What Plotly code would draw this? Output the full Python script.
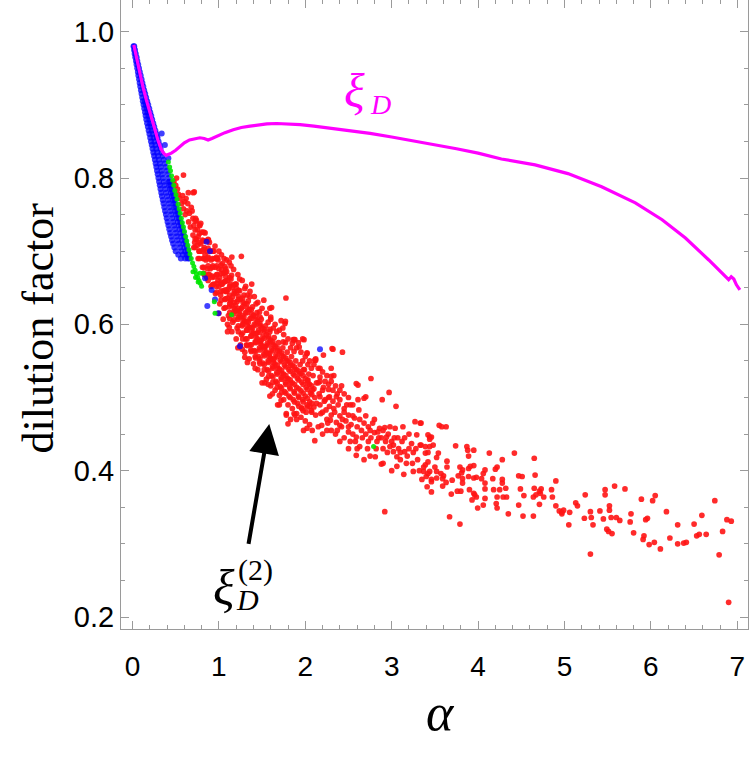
import plotly.graph_objects as go

# ---------------- data ----------------
# magenta curve xi_D
xi_x = [0.015, 0.05, 0.08, 0.12, 0.16, 0.2, 0.236, 0.27, 0.294, 0.334, 0.36, 0.39, 0.42, 0.45, 0.5,
        0.547, 0.6, 0.66, 0.72, 0.78, 0.83, 0.875, 0.92, 0.97, 1.07, 1.166, 1.26, 1.36, 1.46, 1.555,
        1.67, 1.79, 1.94, 2.1, 2.3, 2.5, 2.75, 3.0, 3.25, 3.5, 3.75, 4.0, 4.27, 4.66, 5.04, 5.43,
        5.82, 6.13, 6.40, 6.67, 6.90, 6.93, 6.96, 6.99, 7.03]
xi_y = [0.982, 0.962, 0.943, 0.925, 0.907, 0.89, 0.875, 0.862, 0.852, 0.839, 0.834, 0.831, 0.832,
        0.834, 0.838, 0.843, 0.848, 0.852, 0.854, 0.855, 0.854, 0.852, 0.854, 0.857, 0.862, 0.866,
        0.869, 0.871, 0.873, 0.874, 0.8745, 0.874, 0.873, 0.871, 0.868, 0.865, 0.861, 0.856, 0.851,
        0.846, 0.840, 0.834, 0.826, 0.818, 0.806, 0.788, 0.766, 0.743, 0.718, 0.688, 0.661, 0.665,
        0.662, 0.654, 0.647]

# blue points: rows of (y, [x...])
blue_rows = [
    (0.980, [0.012, 0.02]), (0.975, [0.018, 0.03]), (0.970, [0.025, 0.038]), (0.965, [0.032, 0.048]),
    (0.960, [0.04, 0.056]), (0.955, [0.047, 0.066]), (0.950, [0.055, 0.075]), (0.945, [0.062, 0.085]),
    (0.940, [0.068, 0.095]), (0.935, [0.076, 0.105]), (0.930, [0.083, 0.115]), (0.925, [0.09, 0.125]),
    (0.920, [0.098, 0.135]), (0.915, [0.105, 0.147]), (0.910, [0.113, 0.158]),
    (0.905, [0.12, 0.145, 0.17]), (0.900, [0.128, 0.155, 0.182]), (0.895, [0.136, 0.165, 0.194]),
    (0.890, [0.145, 0.175, 0.205]), (0.885, [0.152, 0.185, 0.217]), (0.880, [0.16, 0.195, 0.228]),
    (0.875, [0.169, 0.205, 0.24]), (0.870, [0.178, 0.215, 0.252]), (0.865, [0.187, 0.225, 0.265]),
    (0.860, [0.196, 0.235, 0.278]), (0.855, [0.205, 0.245, 0.29]), (0.850, [0.214, 0.255, 0.302]),
    (0.845, [0.223, 0.265, 0.314]), (0.840, [0.232, 0.275, 0.325]), (0.835, [0.241, 0.285, 0.336]),
    (0.830, [0.25, 0.295, 0.348]), (0.825, [0.259, 0.305, 0.36]), (0.820, [0.268, 0.315, 0.372]),
    (0.815, [0.276, 0.325, 0.385]), (0.810, [0.284, 0.335, 0.398]), (0.805, [0.292, 0.345, 0.41]),
    (0.800, [0.30, 0.355, 0.42]), (0.795, [0.308, 0.362, 0.418, 0.43]), (0.790, [0.316, 0.37, 0.425, 0.44]),
    (0.785, [0.324, 0.38, 0.435, 0.45]), (0.780, [0.333, 0.39, 0.445, 0.465]),
    (0.775, [0.341, 0.40, 0.455, 0.475]), (0.770, [0.35, 0.41, 0.465, 0.485]),
    (0.765, [0.359, 0.42, 0.475, 0.495]), (0.760, [0.368, 0.43, 0.485, 0.505]),
    (0.755, [0.377, 0.44, 0.495, 0.52]), (0.750, [0.387, 0.45, 0.505, 0.53]),
    (0.745, [0.396, 0.46, 0.515, 0.54]), (0.740, [0.406, 0.47, 0.525, 0.555]),
    (0.735, [0.416, 0.48, 0.535, 0.565]), (0.730, [0.426, 0.49, 0.545, 0.578]),
    (0.725, [0.436, 0.50, 0.555, 0.59]), (0.720, [0.447, 0.51, 0.565, 0.60]),
    (0.715, [0.458, 0.52, 0.575, 0.61]), (0.710, [0.47, 0.535, 0.59, 0.62]),
    (0.705, [0.485, 0.55, 0.60, 0.63]), (0.700, [0.50, 0.565, 0.61, 0.64]),
    (0.695, [0.53, 0.585, 0.625, 0.65]), (0.690, [0.56, 0.61, 0.64, 0.66]),
]
blue_extra = [(0.28, 0.856), (0.338, 0.861), (0.375, 0.845), (0.415, 0.827), (0.858, 0.713),
              (0.897, 0.700), (0.84, 0.663), (0.916, 0.647), (0.955, 0.634), (0.866, 0.625),
              (0.993, 0.615), (1.244, 0.570), (2.17, 0.566)]

# green points
green_pts = [(0.415, 0.822), (0.43, 0.815), (0.44, 0.81), (0.452, 0.803), (0.465, 0.797), (0.478, 0.79),
             (0.49, 0.783), (0.503, 0.777), (0.515, 0.771), (0.528, 0.764), (0.54, 0.758), (0.552, 0.752),
             (0.565, 0.745), (0.577, 0.739), (0.59, 0.733), (0.602, 0.727), (0.615, 0.72), (0.628, 0.714),
             (0.64, 0.708), (0.653, 0.702), (0.665, 0.696), (0.68, 0.69), (0.695, 0.684), (0.71, 0.679),
             (0.725, 0.674), (0.74, 0.669), (0.755, 0.664), (0.77, 0.66), (0.785, 0.656), (0.80, 0.652),
             (0.70, 0.672), (0.73, 0.664), (0.76, 0.658), (0.78, 0.67), (0.82, 0.67), (0.947, 0.631),
             (0.955, 0.615), (1.147, 0.613), (2.79, 0.433)]

# red points
red_pts = [
    # leading edge / upper outliers
    (0.47, 0.793), (0.59, 0.804), (0.646, 0.780), (0.704, 0.780), (0.715, 0.781),
    (0.48, 0.795), (0.50, 0.79), (0.52, 0.785), (0.53, 0.778), (0.55, 0.772), (0.51, 0.80),
    (0.58, 0.776), (0.60, 0.768), (0.59, 0.758), (0.61, 0.75), (0.62, 0.772), (0.57, 0.765),
    (0.64, 0.765), (0.66, 0.752), (0.65, 0.74), (0.67, 0.733), (0.63, 0.755), (0.68, 0.76),
    (0.69, 0.755), (0.70, 0.745), (0.71, 0.735), (0.70, 0.722), (0.72, 0.712), (0.73, 0.745), (0.71, 0.705),
    (0.74, 0.742), (0.75, 0.73), (0.76, 0.72), (0.75, 0.708), (0.77, 0.70), (0.76, 0.69), (0.78, 0.735), (0.74, 0.716),
    (0.79, 0.738), (0.80, 0.726), (0.81, 0.715), (0.80, 0.70), (0.82, 0.69), (0.81, 0.678), (0.83, 0.668), (0.79, 0.71), (0.83, 0.705),
    (0.84, 0.725), (0.85, 0.714), (0.86, 0.70), (0.85, 0.688), (0.87, 0.676), (0.86, 0.664), (0.88, 0.715), (0.84, 0.695), (0.88, 0.69),
    (0.89, 0.712), (0.90, 0.70), (0.91, 0.688), (0.90, 0.676), (0.92, 0.664), (0.91, 0.652), (0.93, 0.70), (0.93, 0.68), (0.89, 0.668),
    (0.94, 0.70), (0.95, 0.69), (0.96, 0.678), (0.95, 0.665), (0.97, 0.652), (0.96, 0.642), (0.98, 0.69), (0.98, 0.668), (0.94, 0.655),
    (0.99, 0.688), (1.00, 0.676), (1.01, 0.664), (1.00, 0.652), (1.02, 0.64), (1.01, 0.628), (1.03, 0.675), (1.03, 0.655), (0.99, 0.66),
    (1.04, 0.683), (1.05, 0.67), (1.06, 0.658), (1.05, 0.646), (1.07, 0.634), (1.06, 0.622), (1.08, 0.665), (1.08, 0.645), (1.04, 0.655),
    (1.09, 0.672), (1.10, 0.66), (1.11, 0.648), (1.10, 0.636), (1.12, 0.624), (1.11, 0.612), (1.13, 0.655), (1.13, 0.632), (1.09, 0.645), (1.14, 0.68),
    (1.14, 0.662), (1.15, 0.65), (1.16, 0.638), (1.15, 0.626), (1.17, 0.614), (1.16, 0.603), (1.18, 0.645), (1.18, 0.622), (1.14, 0.633),
    (1.19, 0.655), (1.20, 0.643), (1.21, 0.631), (1.20, 0.619), (1.22, 0.607), (1.21, 0.595), (1.23, 0.638), (1.23, 0.615), (1.19, 0.626), (1.24, 0.662),
    (1.24, 0.646), (1.25, 0.634), (1.26, 0.622), (1.25, 0.61), (1.27, 0.598), (1.26, 0.586), (1.28, 0.63), (1.28, 0.605), (1.24, 0.618),
    (1.29, 0.64), (1.30, 0.628), (1.31, 0.616), (1.30, 0.604), (1.32, 0.592), (1.31, 0.58), (1.33, 0.622), (1.33, 0.598), (1.29, 0.61), (1.32, 0.572),
    (1.34, 0.632), (1.35, 0.62), (1.36, 0.608), (1.35, 0.596), (1.37, 0.584), (1.36, 0.572), (1.38, 0.614), (1.38, 0.59), (1.34, 0.603), (1.37, 0.565),
    (1.39, 0.624), (1.40, 0.612), (1.41, 0.60), (1.40, 0.588), (1.42, 0.576), (1.41, 0.564), (1.43, 0.606), (1.43, 0.582), (1.39, 0.595), (1.42, 0.556),
    (1.44, 0.616), (1.45, 0.604), (1.46, 0.592), (1.45, 0.58), (1.47, 0.568), (1.46, 0.556), (1.48, 0.598), (1.48, 0.574), (1.44, 0.588), (1.47, 0.549),
    (1.49, 0.607), (1.50, 0.595), (1.51, 0.583), (1.50, 0.571), (1.52, 0.559), (1.51, 0.547), (1.53, 0.59), (1.53, 0.565), (1.49, 0.578),
    (1.54, 0.598), (1.55, 0.586), (1.56, 0.574), (1.55, 0.562), (1.57, 0.55), (1.56, 0.538), (1.58, 0.58), (1.58, 0.556), (1.54, 0.57),
    (1.59, 0.59), (1.60, 0.578), (1.61, 0.566), (1.60, 0.554), (1.62, 0.542), (1.61, 0.53), (1.63, 0.572), (1.63, 0.548), (1.59, 0.56),
    (1.64, 0.582), (1.65, 0.57), (1.66, 0.558), (1.65, 0.546), (1.67, 0.534), (1.66, 0.522), (1.68, 0.564), (1.68, 0.54), (1.64, 0.553),
    (1.69, 0.575), (1.70, 0.563), (1.71, 0.551), (1.70, 0.539), (1.72, 0.527), (1.71, 0.515), (1.73, 0.557), (1.73, 0.533),
    (1.74, 0.568), (1.75, 0.556), (1.76, 0.544), (1.75, 0.532), (1.77, 0.52), (1.76, 0.508), (1.78, 0.55), (1.78, 0.526),
    (1.79, 0.562), (1.80, 0.55), (1.81, 0.538), (1.80, 0.526), (1.82, 0.514), (1.81, 0.502), (1.83, 0.544), (1.83, 0.52),
    (1.84, 0.556), (1.85, 0.544), (1.86, 0.532), (1.85, 0.52), (1.87, 0.508), (1.86, 0.497), (1.88, 0.538),
    (1.89, 0.55), (1.90, 0.538), (1.91, 0.526), (1.90, 0.514), (1.92, 0.502), (1.91, 0.492), (1.93, 0.532),
    (1.94, 0.545), (1.95, 0.533), (1.96, 0.521), (1.95, 0.509), (1.97, 0.497), (1.96, 0.486),
    (1.99, 0.538), (2.00, 0.526), (2.01, 0.514), (2.00, 0.502), (2.02, 0.49), (2.01, 0.48), (2.03, 0.52),
    (2.04, 0.532), (2.05, 0.518), (2.06, 0.506), (2.05, 0.494), (2.07, 0.482), (2.08, 0.51),
    (2.09, 0.53), (2.10, 0.512), (2.11, 0.50), (2.10, 0.487), (2.12, 0.476), (2.13, 0.52),
    (2.15, 0.52), (2.16, 0.505), (2.17, 0.49), (2.18, 0.478), (2.20, 0.51), (2.22, 0.495), (2.24, 0.483),
    (2.25, 0.47), (2.27, 0.50), (2.28, 0.488), (2.30, 0.476), (2.32, 0.495), (2.34, 0.48), (2.36, 0.466),
    (2.38, 0.49), (2.40, 0.475), (2.42, 0.46), (2.45, 0.48), (2.47, 0.468), (2.50, 0.476), (2.53, 0.463),
    (2.55, 0.45), (2.57, 0.472), (2.60, 0.46), (2.63, 0.47), (2.65, 0.455), (2.68, 0.465), (2.70, 0.45),
    (2.73, 0.46), (2.76, 0.445), (2.78, 0.465), (2.80, 0.452), (2.83, 0.44), (2.86, 0.458), (2.88, 0.445),
    (2.90, 0.43), (2.93, 0.44), (2.96, 0.45), (3.00, 0.44), (3.03, 0.445), (3.08, 0.43), (3.12, 0.44),
    (3.18, 0.42), (3.20, 0.45), (3.25, 0.425), (3.30, 0.415),
    # lower fringe of the dense band
    (1.0, 0.615), (1.05, 0.607), (1.1, 0.60), (1.15, 0.59), (1.2, 0.58), (1.25, 0.572), (1.3, 0.562),
    (1.35, 0.553), (1.4, 0.546), (1.45, 0.538), (1.5, 0.532), (1.55, 0.525), (1.6, 0.516), (1.65, 0.51),
    (1.7, 0.503), (1.75, 0.497), (1.8, 0.49), (1.85, 0.485), (1.9, 0.478), (1.95, 0.473), (2.0, 0.468),
    (2.05, 0.463), (1.12, 0.596), (1.27, 0.566), (1.42, 0.54), (1.57, 0.518), (1.72, 0.496), (1.87, 0.478),
    (2.02, 0.458), (1.33, 0.548), (1.53, 0.52), (1.68, 0.49), (1.83, 0.47), (1.98, 0.455), (1.22, 0.568),
    (1.62, 0.505), (1.9, 0.47), (2.08, 0.455), (2.15, 0.46), (2.25, 0.455), (2.35, 0.45), (2.2, 0.45),
    (1.7, 0.49), (1.5, 0.52), (1.3, 0.555), (1.1, 0.59),
    # upper fringe of the dense band
    (1.0, 0.70), (1.03, 0.695), (1.06, 0.69), (1.12, 0.685), (1.17, 0.675), (1.22, 0.668), (1.27, 0.66),
    (1.31, 0.652), (1.36, 0.645), (1.41, 0.638), (1.45, 0.63), (1.5, 0.622), (1.55, 0.615), (1.6, 0.607),
    (1.65, 0.60), (1.7, 0.592), (1.75, 0.586), (1.8, 0.58), (1.85, 0.574), (1.9, 0.568), (1.95, 0.562),
    (2.0, 0.556), (2.05, 0.55), (2.1, 0.545), (2.15, 0.54), (2.2, 0.535), (2.25, 0.53), (2.3, 0.522),
    (2.35, 0.516), (2.4, 0.51), (1.08, 0.676), (1.2, 0.655), (1.33, 0.64), (1.47, 0.617), (1.57, 0.603),
    (1.67, 0.59), (1.77, 0.575), (1.87, 0.563), (1.97, 0.55), (2.07, 0.54), (2.17, 0.528), (2.27, 0.518),
    (2.37, 0.505), (1.43, 0.628), (1.63, 0.595), (1.83, 0.568), (2.03, 0.545), (2.23, 0.522), (1.15, 0.692),
    (1.38, 0.655), (1.52, 0.633), (1.72, 0.605), (1.92, 0.575), (2.12, 0.553), (2.33, 0.53), (2.5, 0.50),
    (2.55, 0.49), (2.45, 0.505),
    # body 2.2 - 3.3
    (2.2, 0.48), (2.26, 0.465), (2.33, 0.485), (2.37, 0.455), (2.43, 0.47), (2.48, 0.49), (2.5, 0.46),
    (2.55, 0.475), (2.58, 0.44), (2.62, 0.483), (2.66, 0.445), (2.7, 0.475), (2.72, 0.43), (2.75, 0.455),
    (2.8, 0.47), (2.82, 0.43), (2.85, 0.445), (2.9, 0.455), (2.95, 0.425), (2.98, 0.46), (3.02, 0.435),
    (3.07, 0.445), (3.1, 0.425), (3.15, 0.445), (3.2, 0.43), (3.24, 0.41), (3.28, 0.43), (3.32, 0.40),
    (2.3, 0.455), (2.45, 0.445), (2.6, 0.43), (2.75, 0.42), (2.9, 0.41), (3.0, 0.40), (3.14, 0.395),
    (2.4, 0.44), (2.68, 0.415), (2.5, 0.43),
    # outliers 0.9 - 2.5
    (0.955, 0.707), (0.974, 0.692), (1.09, 0.688), (1.07, 0.679), (1.147, 0.667), (1.205, 0.649),
    (1.26, 0.693), (1.30, 0.649), (1.36, 0.638), (1.776, 0.636), (1.59, 0.622), (1.476, 0.610),
    (1.765, 0.601), (1.88, 0.579), (1.985, 0.579), (2.02, 0.561), (1.59, 0.593), (1.745, 0.576),
    (1.61, 0.623), (1.60, 0.610), (1.77, 0.604), (1.74, 0.595), (1.86, 0.579), (1.97, 0.580),
    (2.02, 0.560), (2.11, 0.551), (2.31, 0.567), (1.59, 0.502), (1.80, 0.464), (2.11, 0.441), (1.78, 0.478),
    (1.87, 0.579), (1.93, 0.569), (2.32, 0.566), (2.43, 0.562), (2.12, 0.551), (2.21, 0.558), (2.17, 0.540),
    (2.30, 0.540), (2.30, 0.529), (1.98, 0.538), (2.03, 0.524), (2.17, 0.522), (2.21, 0.514), (2.27, 0.511),
    (2.32, 0.510), (2.42, 0.516), (2.59, 0.519), (2.61, 0.517), (2.76, 0.526), (2.97, 0.507), (3.05, 0.488),
    (2.89, 0.497), (2.70, 0.501), (2.68, 0.499), (2.61, 0.497), (2.52, 0.490), (2.45, 0.485), (2.40, 0.497),
    (2.36, 0.501), (2.28, 0.501), (2.23, 0.497), (2.17, 0.501), (2.13, 0.492), (2.05, 0.488), (1.96, 0.485),
    (1.88, 0.476), (1.78, 0.476), (2.19, 0.462), (2.29, 0.469), (2.40, 0.462), (2.50, 0.453), (2.59, 0.446),
    (2.52, 0.440), (2.63, 0.433), (2.73, 0.440), (2.84, 0.453), (2.92, 0.459), (2.94, 0.446), (3.04, 0.458),
    (3.13, 0.460), (3.27, 0.467), (3.33, 0.465), (2.98, 0.433), (3.02, 0.426), (3.06, 0.419), (3.10, 0.415),
    (3.15, 0.426), (3.17, 0.410), (3.23, 0.437), (3.25, 0.399), (3.29, 0.449), (3.39, 0.408), (3.42, 0.396),
    (3.46, 0.385), (3.52, 0.399), (2.59, 0.421), (2.81, 0.419), (2.88, 0.409), (3.06, 0.406), (3.44, 0.446),
    (3.48, 0.435), (3.33, 0.435), (3.39, 0.424), (2.92, 0.344),
    # sparse tail x > 3.3
    (3.34, 0.465), (3.55, 0.462), (3.58, 0.460), (3.63, 0.460), (3.42, 0.449), (3.46, 0.446), (3.44, 0.443),
    (3.34, 0.435), (3.39, 0.433), (3.44, 0.433), (3.42, 0.425), (3.54, 0.424), (3.52, 0.418), (3.74, 0.434),
    (3.87, 0.433), (3.88, 0.428), (3.95, 0.428), (3.89, 0.420), (4.13, 0.424), (4.42, 0.424), (4.28, 0.415),
    (4.65, 0.417), (3.37, 0.405), (3.42, 0.412), (3.50, 0.405), (3.44, 0.399), (3.37, 0.399), (3.64, 0.413),
    (3.64, 0.405), (3.57, 0.396), (3.60, 0.393), (3.35, 0.388), (3.40, 0.392), (3.46, 0.388), (3.52, 0.390),
    (3.59, 0.389), (3.46, 0.371), (3.41, 0.378), (3.59, 0.379), (3.63, 0.384), (3.70, 0.387), (3.77, 0.393),
    (3.82, 0.389), (3.82, 0.383), (3.81, 0.397), (3.79, 0.405), (3.82, 0.401), (3.89, 0.403), (3.91, 0.406),
    (3.95, 0.407), (3.76, 0.372), (3.80, 0.372), (3.69, 0.368), (3.89, 0.392), (3.95, 0.390), (3.98, 0.391),
    (4.04, 0.389), (4.08, 0.401), (4.06, 0.396), (4.08, 0.383), (4.08, 0.375), (4.08, 0.362), (3.90, 0.374),
    (3.95, 0.369), (3.96, 0.367), (3.98, 0.364), (3.93, 0.360), (3.995, 0.349), (4.06, 0.353), (3.67, 0.337),
    (3.79, 0.327), (4.17, 0.389), (4.20, 0.402), (4.22, 0.405), (4.18, 0.374), (4.22, 0.364), (4.21, 0.355),
    (4.22, 0.349), (4.25, 0.374), (4.28, 0.388), (4.28, 0.383), (4.32, 0.376), (4.29, 0.364), (4.33, 0.364),
    (4.35, 0.341), (4.47, 0.393), (4.51, 0.392), (4.49, 0.375), (4.47, 0.353), (4.53, 0.366), (4.52, 0.338),
    (4.66, 0.394), (4.65, 0.376), (4.67, 0.367), (4.64, 0.364), (4.71, 0.372), (4.73, 0.375), (4.72, 0.369),
    (4.71, 0.354), (4.64, 0.338), (4.76, 0.364), (4.85, 0.374), (4.90, 0.386), (4.86, 0.364), (4.90, 0.352),
    (4.94, 0.345), (4.97, 0.343), (4.99, 0.346), (4.97, 0.341), (5.06, 0.343), (5.05, 0.326), (5.13, 0.356),
    (5.15, 0.352), (5.24, 0.367), (5.23, 0.335), (5.30, 0.344), (5.31, 0.336), (5.33, 0.326), (5.30, 0.286),
    (5.41, 0.345), (5.45, 0.334), (5.47, 0.374), (5.47, 0.367), (5.52, 0.352), (5.52, 0.346), (5.49, 0.320),
    (5.51, 0.317), (5.55, 0.314), (5.58, 0.379), (5.54, 0.336), (5.60, 0.336), (5.64, 0.332), (5.70, 0.375),
    (5.77, 0.341), (5.76, 0.330), (5.80, 0.315), (5.89, 0.361), (5.92, 0.311), (5.91, 0.306), (5.94, 0.333),
    (5.96, 0.335), (5.98, 0.299), (6.02, 0.359), (6.04, 0.302), (6.05, 0.366), (6.11, 0.293), (6.18, 0.344),
    (6.22, 0.308), (6.31, 0.326), (6.31, 0.300), (6.38, 0.301), (6.41, 0.302), (6.50, 0.327), (6.53, 0.311),
    (6.56, 0.313), (6.59, 0.339), (6.64, 0.313), (6.74, 0.359), (6.79, 0.285), (6.83, 0.317), (6.88, 0.333),
    (6.93, 0.331), (6.90, 0.220),
]

# extra points of the dense red core: columns of (x, [y...])
red_core_cols = [
    (0.725, [0.741, 0.729, 0.717, 0.705]),
    (0.775, [0.736, 0.724, 0.712, 0.700, 0.69]),
    (0.825, [0.726, 0.714, 0.702, 0.69, 0.678, 0.67]),
    (0.875, [0.716, 0.704, 0.692, 0.68, 0.668, 0.66]),
    (0.925, [0.70, 0.69, 0.678, 0.666, 0.654]),
    (0.975, [0.69, 0.68, 0.668, 0.656, 0.644]),
    (1.025, [0.681, 0.669, 0.657, 0.645, 0.633]),
    (1.075, [0.671, 0.659, 0.647, 0.635, 0.623]),
    (1.125, [0.664, 0.652, 0.64, 0.628, 0.616, 0.608]),
    (1.175, [0.654, 0.642, 0.63, 0.618, 0.606]),
    (1.225, [0.646, 0.634, 0.622, 0.61, 0.598, 0.59]),
    (1.275, [0.636, 0.624, 0.612, 0.60, 0.588, 0.58]),
    (1.325, [0.628, 0.616, 0.604, 0.592, 0.58, 0.571]),
    (1.375, [0.62, 0.608, 0.596, 0.584, 0.572, 0.563]),
    (1.425, [0.611, 0.599, 0.587, 0.575, 0.563, 0.554]),
    (1.475, [0.601, 0.589, 0.577, 0.565, 0.553, 0.546]),
    (1.525, [0.593, 0.581, 0.569, 0.557, 0.545, 0.538]),
    (1.575, [0.584, 0.572, 0.56, 0.548, 0.536, 0.529]),
    (1.625, [0.576, 0.564, 0.552, 0.54, 0.528, 0.521]),
    (1.675, [0.568, 0.556, 0.544, 0.532, 0.52, 0.514]),
    (1.725, [0.561, 0.549, 0.537, 0.525, 0.513, 0.507]),
    (1.775, [0.554, 0.542, 0.53, 0.518, 0.506]),
    (1.825, [0.548, 0.536, 0.524, 0.512, 0.50]),
    (1.875, [0.542, 0.53, 0.518, 0.506, 0.494]),
    (1.925, [0.536, 0.524, 0.512, 0.50, 0.488]),
    (1.975, [0.53, 0.518, 0.506, 0.494, 0.482]),
    (2.025, [0.523, 0.511, 0.499, 0.487]),
    (2.075, [0.516, 0.504, 0.492, 0.48]),
]

x_ticks = [0, 1, 2, 3, 4, 5, 6, 7]
y_ticks = [0.2, 0.4, 0.6, 0.8, 1.0]

# ---------------- figure ----------------
blue_x = [x for y, xs in blue_rows for x in xs] + [p[0] for p in blue_extra]
blue_y = [y for y, xs in blue_rows for x in xs] + [p[1] for p in blue_extra]
red_x = [p[0] for p in red_pts] + [x for x, ys in red_core_cols for y in ys]
red_y = [p[1] for p in red_pts] + [y for x, ys in red_core_cols for y in ys]

fig = go.Figure()
fig.add_trace(go.Scatter(x=red_x, y=red_y, mode="markers",
                         marker=dict(color="rgb(255,20,20)", size=5.7, opacity=0.9, line=dict(width=0)),
                         showlegend=False, hoverinfo="skip"))
fig.add_trace(go.Scatter(x=blue_x, y=blue_y, mode="markers",
                         marker=dict(color="rgb(0,0,255)", size=6, opacity=0.75, line=dict(width=0)),
                         showlegend=False, hoverinfo="skip"))
fig.add_trace(go.Scatter(x=[p[0] for p in green_pts], y=[p[1] for p in green_pts], mode="markers",
                         marker=dict(color="rgb(0,230,0)", size=5, opacity=0.9, line=dict(width=0)),
                         showlegend=False, hoverinfo="skip"))
fig.add_trace(go.Scatter(x=xi_x, y=xi_y, mode="lines", line=dict(color="#ff00ff", width=3.2),
                         showlegend=False, hoverinfo="skip"))

axis_common = dict(showgrid=False, zeroline=False, showline=True, linecolor="#9a9a9a", linewidth=1,
                   mirror="allticks", ticks="inside", tickcolor="#9a9a9a", ticklen=8, tickwidth=1)

fig.update_xaxes(range=[-0.133, 7.124], tickvals=x_ticks, ticktext=[str(v) for v in x_ticks],
                 tickfont=dict(family="Liberation Sans Narrow, Liberation Sans, Arial", size=28, color="black"),
                 ticklabelstandoff=12,
                 minor=dict(dtick=0.2, ticks="inside", ticklen=4, tickcolor="#9a9a9a"),
                 **axis_common)
fig.update_yaxes(range=[0.1836, 1.0433], tickvals=y_ticks, ticktext=["%.1f" % v for v in y_ticks],
                 tickfont=dict(family="Liberation Sans, Arial", size=29, color="black"),
                 ticklabelstandoff=0,
                 minor=dict(dtick=0.05, tick0=0, ticks="inside", ticklen=4, tickcolor="#9a9a9a"),
                 **axis_common)

serif = "Liberation Serif, Times New Roman, serif"
fig.add_annotation(text="dilution factor", textangle=-90, xref="paper", yref="paper",
                   x=-0.132, y=0.478, xanchor="center", yanchor="middle", showarrow=False,
                   font=dict(family=serif, size=44, color="black"))
fig.add_annotation(text="<i>α</i>", xref="paper", yref="paper", x=0.509, y=-0.132,
                   xanchor="center", yanchor="middle", showarrow=False,
                   font=dict(family=serif, size=52, color="black"))
# xi_D (magenta)
fig.add_annotation(text="<i>ξ</i>", x=2.569, y=0.92, xanchor="center", yanchor="middle",
                   showarrow=False, font=dict(family=serif, size=48, color="#ff00ff"))
fig.add_annotation(text="<i>D</i>", x=2.876, y=0.901, xanchor="center", yanchor="middle",
                   showarrow=False, font=dict(family=serif, size=28, color="#ff00ff"))
# xi_D^(2) (black)
fig.add_annotation(text="<i>ξ</i>", x=1.059, y=0.240, xanchor="center", yanchor="middle",
                   showarrow=False, font=dict(family=serif, size=50, color="black"))
fig.add_annotation(text="<i>D</i>", x=1.331, y=0.224, xanchor="center", yanchor="middle",
                   showarrow=False, font=dict(family=serif, size=30, color="black"))
fig.add_annotation(text="(2)", x=1.429, y=0.264, xanchor="center", yanchor="middle",
                   showarrow=False, font=dict(family=serif, size=30, color="black"))
fig.add_annotation(text="", x=1.583, y=0.4638, ax=1.34, ay=0.298, axref="x", ayref="y",
                   showarrow=True, arrowhead=2, arrowsize=1.5, arrowwidth=4, arrowcolor="black")

fig.update_layout(width=750, height=765, margin=dict(l=121, r=2, t=0, b=136),
                  plot_bgcolor="white", paper_bgcolor="white")

fig.write_html("out.html")
